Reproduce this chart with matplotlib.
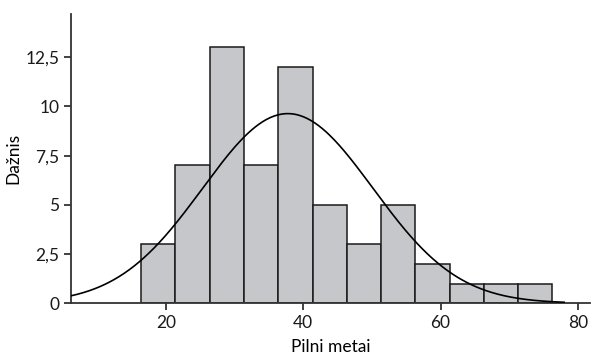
import numpy as np
import matplotlib.pyplot as plt
from matplotlib.ticker import FuncFormatter

plt.rcParams['font.family'] = ['Lato', 'DejaVu Sans']

# histogramos duomenys
bin_edges = np.linspace(16.4, 76.3, 13)
counts = [3, 7, 13, 7, 12, 5, 3, 5, 2, 1, 1, 1]

# normaliojo skirstinio kreive
mu = 37.75
sigma = 12.4

x_ticks = [20, 40, 60, 80]
y_ticks = [0, 2.5, 5, 7.5, 10, 12.5]

fig = plt.figure(figsize=(5.98, 3.58), dpi=100)
ax = fig.add_axes([0.119, 0.153, 0.868, 0.808])

width = bin_edges[1] - bin_edges[0]
ax.bar(bin_edges[:-1], counts, width=width, align='edge',
       color='#c6c7ca', edgecolor='#1a1a1a', linewidth=1.1, zorder=2)

xs = np.linspace(6.2, 78, 400)
n = sum(counts)
ys = n * width / (sigma * np.sqrt(2 * np.pi)) * np.exp(-0.5 * ((xs - mu) / sigma) ** 2)
ax.plot(xs, ys, color='black', linewidth=1.2, zorder=3)

ax.set_xlim(6.2, 81.8)
ax.set_ylim(0, 14.7)
ax.set_xticks(x_ticks)
ax.set_yticks(y_ticks)
ax.yaxis.set_major_formatter(FuncFormatter(lambda v, p: ('%g' % v).replace('.', ',')))

for s in ['top', 'right']:
    ax.spines[s].set_visible(False)
for s in ['left', 'bottom']:
    ax.spines[s].set_color('#333333')
    ax.spines[s].set_linewidth(1.3)
ax.tick_params(direction='out', length=5, width=1.3, color='#333333',
               labelsize=12.5, colors='#1a1a1a')

ax.set_xlabel('Pilni metai', fontsize=12.5, labelpad=6)
ax.set_ylabel('Dažnis', fontsize=12.5, labelpad=3)

plt.savefig('out.png', dpi=100)
